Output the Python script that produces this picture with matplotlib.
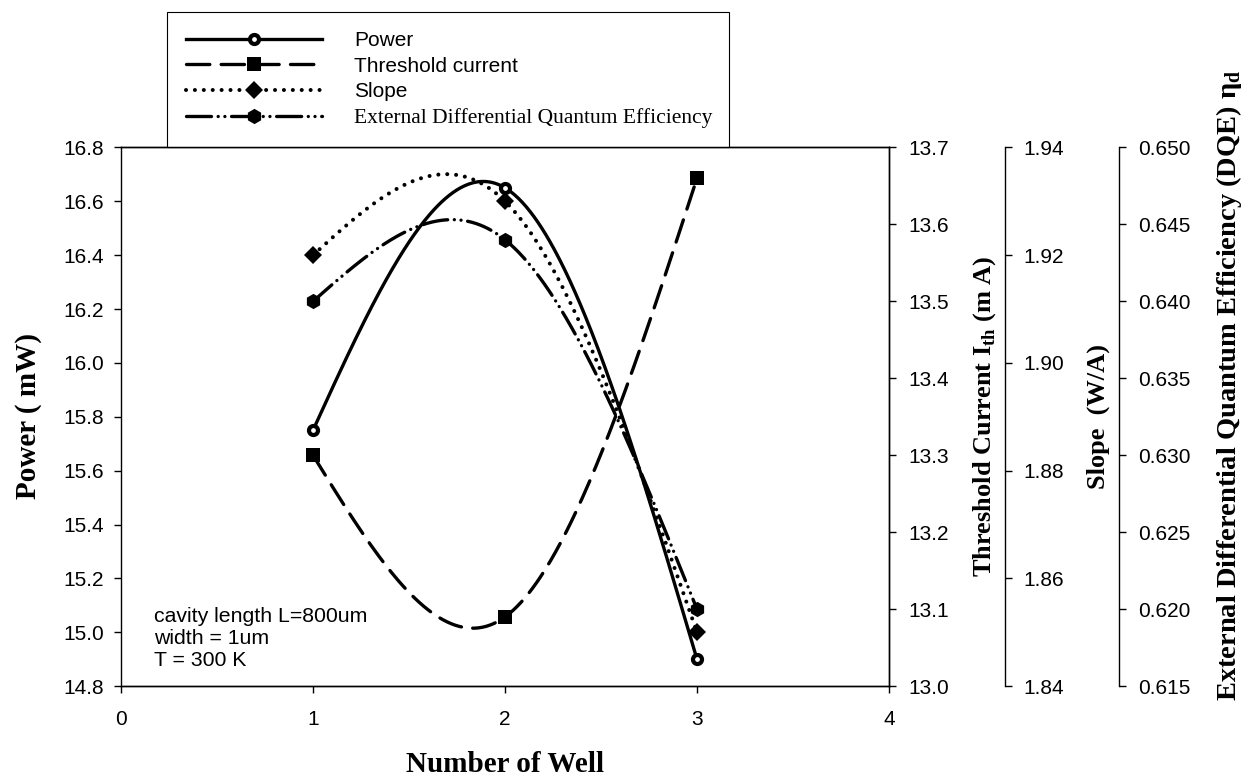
import numpy as np
import matplotlib
matplotlib.use("Agg")
import matplotlib.pyplot as plt
from matplotlib.lines import Line2D
from matplotlib.ticker import FormatStrFormatter

# ---------------- data ----------------
wells = [1, 2, 3]
power = [15.75, 16.65, 14.90]          # mW
threshold = [13.30, 13.09, 13.66]      # mA
slope = [1.920, 1.930, 1.850]          # W/A
dqe = [0.640, 0.644, 0.620]            # external differential quantum efficiency

x_ticks = [0, 1, 2, 3, 4]
power_ticks = [14.8, 15.0, 15.2, 15.4, 15.6, 15.8, 16.0, 16.2, 16.4, 16.6, 16.8]
thr_ticks = [13.0, 13.1, 13.2, 13.3, 13.4, 13.5, 13.6, 13.7]
slope_ticks = [1.84, 1.86, 1.88, 1.90, 1.92, 1.94]
dqe_ticks = [0.615, 0.620, 0.625, 0.630, 0.635, 0.640, 0.645, 0.650]

legend_labels = ["Power", "Threshold current", "Slope",
                 "External Differential Quantum Efficiency"]
note = "cavity length L=800um\nwidth = 1um\nT = 300 K"

# ---------------- style ----------------
SANS = "Liberation Sans"
SERIF = "Liberation Serif"
TICK_FS = 15
plt.rcParams["font.family"] = [SANS, "DejaVu Sans"]
plt.rcParams["mathtext.fontset"] = "custom"
plt.rcParams["mathtext.rm"] = SERIF

W, H = 1254, 777
fig = plt.figure(figsize=(W / 100, H / 100), dpi=100)
x0, x1 = 121, 889
yt, yb = 147.4, 686.2
ax = fig.add_axes([x0 / W, 1 - yb / H, (x1 - x0) / W, (yb - yt) / H])

LW = 2.4
styles = {
    "power": dict(lw=LW, ls="-", marker="o", ms=6.5, mew=3.0, mfc="white", mec="k"),
    "thr": dict(lw=LW, ls=(0, (7, 3.4)), marker="s", ms=9.5, mew=0, mfc="k", mec="k"),
    "slope": dict(lw=2.9, ls=(0, (0.01, 2.2)), marker="D", ms=9.5, mew=0, mfc="k", mec="k"),
    "dqe": dict(lw=LW, ls=(0, (7.5, 2.0, 0.01, 2.0, 0.01, 2.0)), marker="h", ms=11, mew=0,
                mfc="k", mec="k"),
}


def natural_spline(xk, yk, n=300):
    """Smooth connecting curve (natural cubic spline) through the data points."""
    xk = np.asarray(xk, float)
    yk = np.asarray(yk, float)
    k = len(xk)
    h = np.diff(xk)
    A = np.zeros((k, k))
    r = np.zeros(k)
    A[0, 0] = A[-1, -1] = 1.0
    for i in range(1, k - 1):
        A[i, i - 1] = h[i - 1]
        A[i, i] = 2 * (h[i - 1] + h[i])
        A[i, i + 1] = h[i]
        r[i] = 6 * ((yk[i + 1] - yk[i]) / h[i] - (yk[i] - yk[i - 1]) / h[i - 1])
    M = np.linalg.solve(A, r)
    xs = np.linspace(xk[0], xk[-1], n)
    idx = np.clip(np.searchsorted(xk, xs) - 1, 0, k - 2)
    xa, xb = xk[idx], xk[idx + 1]
    hh = xb - xa
    ys = (M[idx] * (xb - xs) ** 3 / (6 * hh) + M[idx + 1] * (xs - xa) ** 3 / (6 * hh)
          + (yk[idx] / hh - M[idx] * hh / 6) * (xb - xs)
          + (yk[idx + 1] / hh - M[idx + 1] * hh / 6) * (xs - xa))
    return xs, ys


def draw(axis, yvals, st):
    xs, ys = natural_spline(wells, yvals)
    axis.plot(xs, ys, color="k", lw=st["lw"], ls=st["ls"],
              dash_capstyle="round", solid_capstyle="round", zorder=2)
    axis.plot(wells, yvals, ls="none", marker=st["marker"], ms=st["ms"],
              mew=st["mew"], mfc=st["mfc"], mec=st["mec"], zorder=3, clip_on=False)


ax2 = ax.twinx()
ax3 = ax.twinx()
ax4 = ax.twinx()

draw(ax, power, styles["power"])
draw(ax2, threshold, styles["thr"])
draw(ax3, slope, styles["slope"])
draw(ax4, dqe, styles["dqe"])

# ---------------- axes ----------------
ax.set_xlim(0, 4)
ax.set_ylim(14.8, 16.8)
ax.set_xticks(x_ticks)
ax.set_yticks(power_ticks)
ax.yaxis.set_major_formatter(FormatStrFormatter("%.1f"))
ax2.set_ylim(13.0, 13.7)
ax2.set_yticks(thr_ticks)
ax2.yaxis.set_major_formatter(FormatStrFormatter("%.1f"))
ax3.set_ylim(1.84, 1.94)
ax3.set_yticks(slope_ticks)
ax3.yaxis.set_major_formatter(FormatStrFormatter("%.2f"))
ax4.set_ylim(0.615, 0.650)
ax4.set_yticks(dqe_ticks)
ax4.yaxis.set_major_formatter(FormatStrFormatter("%.3f"))

for a in (ax, ax2, ax3, ax4):
    for s in a.spines.values():
        s.set_linewidth(1.0)
        s.set_color("k")

ax.tick_params(axis="x", direction="out", length=5.3, width=1, pad=11.5,
               labelsize=TICK_FS, top=False)
ax.tick_params(axis="y", direction="out", length=5.3, width=1, pad=7,
               labelsize=TICK_FS, right=False)
for a in (ax2, ax3, ax4):
    a.tick_params(axis="y", direction="out", length=5.3, width=1, pad=8.3,
                  labelsize=TICK_FS)
for a in (ax3, ax4):
    for side in ("left", "top", "bottom"):
        a.spines[side].set_visible(False)
ax2.spines["left"].set_visible(False)
ax3.spines["right"].set_position(("axes", 1 + (1004.7 - x1) / (x1 - x0)))
ax4.spines["right"].set_position(("axes", 1 + (1119 - x1) / (x1 - x0)))

# ---------------- labels ----------------
lab = dict(family=SERIF, weight="bold")
ax.set_xlabel("Number of Well", fontsize=21, **lab)
ax.xaxis.set_label_coords(0.5, -(765 - yb) / (yb - yt))
ax.xaxis.label.set_va("center")


def ylab(axis, text, fs, xpx, ypx):
    axis.set_ylabel(text, fontsize=fs, **lab)
    axis.yaxis.set_label_coords((xpx - x0) / (x1 - x0), (yb - ypx) / (yb - yt))
    axis.yaxis.label.set_rotation(90)
    axis.yaxis.label.set_rotation_mode("default")
    axis.yaxis.label.set_va("center")
    axis.yaxis.label.set_ha("center")


ylab(ax, "Power ( mW)", 21, 28, 416)
ylab(ax2, r"Threshold Current I$_{\mathregular{th}}$ (m A)", 19, 985, 416)
ylab(ax3, "Slope  (W/A)", 19, 1098, 417)
ylab(ax4, "External Differential Quantum Efficiency (DQE) \u03b7$_{\\mathregular{d}}$",
     20.5, 1229, 385)

ax.text((154 - x0) / (x1 - x0), (yb - 638) / (yb - yt), note, transform=ax.transAxes,
        fontsize=15.3, family=SANS, ha="left", va="center", linespacing=1.2)

# ---------------- legend ----------------
keys = ["power", "thr", "slope", "dqe"]
handles = [Line2D([], [], color="k", lw=styles[k]["lw"], ls=styles[k]["ls"],
                  marker=styles[k]["marker"], ms=styles[k]["ms"], mew=styles[k]["mew"],
                  mfc=styles[k]["mfc"], mec=styles[k]["mec"], dash_capstyle="round")
           for k in keys]
leg = ax.legend(handles, legend_labels, loc="lower left",
                bbox_to_anchor=(167 / W, 1 - yt / H, (729 - 167) / W, 0.1),
                bbox_transform=fig.transFigure, mode="expand", borderaxespad=0,
                numpoints=1, fontsize=15, handlelength=6.5, handletextpad=1.55,
                labelspacing=0.32, borderpad=0.93, fancybox=False, shadow=False,
                framealpha=1, edgecolor="k")
leg.get_frame().set_linewidth(0.8)
leg.get_texts()[3].set_family(SERIF)
leg.get_texts()[3].set_fontsize(15.5)

fig.savefig("out.png", dpi=100)
